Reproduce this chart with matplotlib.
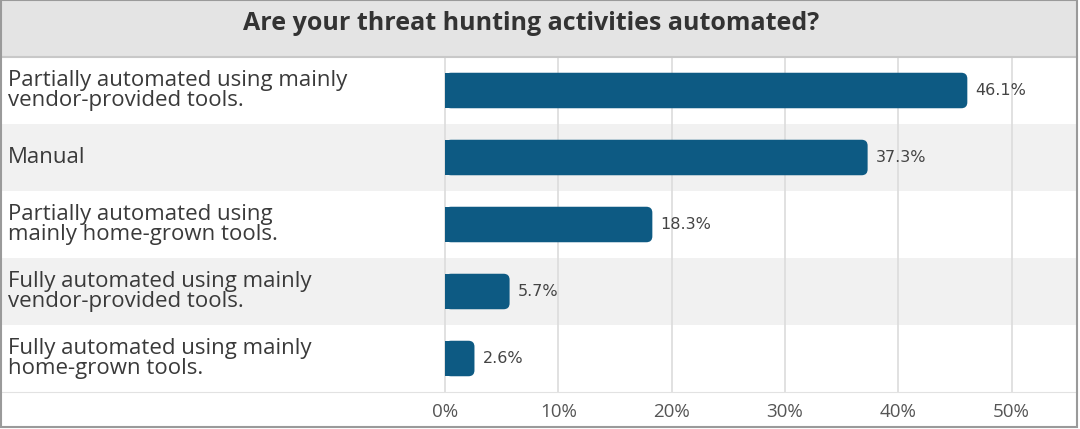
import matplotlib
matplotlib.use("Agg")
import matplotlib.pyplot as plt
from matplotlib.patches import FancyBboxPatch, Rectangle

# 数据
categories = [
    "Partially automated using mainly\nvendor-provided tools.",
    "Manual",
    "Partially automated using\nmainly home-grown tools.",
    "Fully automated using mainly\nvendor-provided tools.",
    "Fully automated using mainly\nhome-grown tools.",
]
values = [46.1, 37.3, 18.3, 5.7, 2.6]
tick_vals = [0, 10, 20, 30, 40, 50]
tick_labels = ["0%", "10%", "20%", "30%", "40%", "50%"]
title = "Are your threat hunting activities automated?"

bar_color = "#0d5a83"
band_color = "#f1f1f1"
head_color = "#e4e4e4"
text_color = "#3a3a3a"

W, H = 1080, 429
fig = plt.figure(figsize=(W / 100, H / 100), dpi=100)

# 主坐标区: x 2..1077 px, y 57..392 px
ax = fig.add_axes([2 / W, (H - 392) / H, 1075 / W, 335 / H])
xmin, xmax = -39.1, 55.78
ax.set_xlim(xmin, xmax)
ax.set_ylim(len(values) - 0.5, -0.5)

# 行背景
for i in range(len(values)):
    if i % 2 == 1:
        ax.axhspan(i - 0.5, i + 0.5, color=band_color, zorder=0, lw=0)

# 网格线
ax.set_xticks(tick_vals)
ax.set_xticklabels(tick_labels)
ax.grid(axis="x", color="#dcdcdc", lw=1.2, zorder=1)
ax.set_axisbelow(True)
ax.set_yticks([])
for s in ["top", "left", "right"]:
    ax.spines[s].set_visible(False)
ax.spines["bottom"].set_color("#e2e2e2")
ax.tick_params(axis="x", length=0, pad=8, labelsize=13.5, labelcolor="#555555")
for lbl in ax.get_xticklabels():
    lbl.set_family(["Open Sans", "DejaVu Sans"])

# 圆角条形
px_x = 1075 / (xmax - xmin)
px_y = 335 / len(values)
bh = 0.53
r = 6 / px_x
for i, v in enumerate(values):
    ax.barh(i, v / 2, height=bh, color=bar_color, lw=0, zorder=3)
    p = FancyBboxPatch((0, i - bh / 2), v, bh,
                       boxstyle="round,pad=0,rounding_size=%f" % r,
                       mutation_aspect=px_x / px_y,
                       fc=bar_color, ec="none", zorder=3)
    ax.add_patch(p)
    ax.text(v + 0.7, i, "%.1f%%" % v, va="center", ha="left", fontsize=11.5,
            color="#444444", family=["Liberation Sans Narrow", "DejaVu Sans"],
            zorder=4)
    ax.text(xmin + 6 / px_x, i, categories[i], va="center", ha="left",
            fontsize=16, color=text_color, linespacing=0.97,
            family=["Open Sans", "DejaVu Sans"], zorder=4)

# 标题栏
fig.patches.append(Rectangle((0, (H - 56) / H), 1077 / W, 56 / H,
                             transform=fig.transFigure, fc=head_color,
                             ec="none", zorder=0))
fig.lines.append(plt.Line2D([0, 1077 / W], [(H - 56.5) / H] * 2,
                            transform=fig.transFigure, color="#c8c8c8", lw=1.5))
fig.text(531 / W, (H - 23) / H, title, ha="center", va="center", fontsize=18,
         fontweight="bold", color="#333333", family=["Open Sans", "DejaVu Sans"])

# 外框
fig.patches.append(Rectangle((0.5 / W, 2 / H), 1076.5 / W, (H - 2) / H,
                             transform=fig.transFigure, fc="none",
                             ec="#9a9a9a", lw=1.5, zorder=5))

fig.savefig("out.png", dpi=100, facecolor="white")
